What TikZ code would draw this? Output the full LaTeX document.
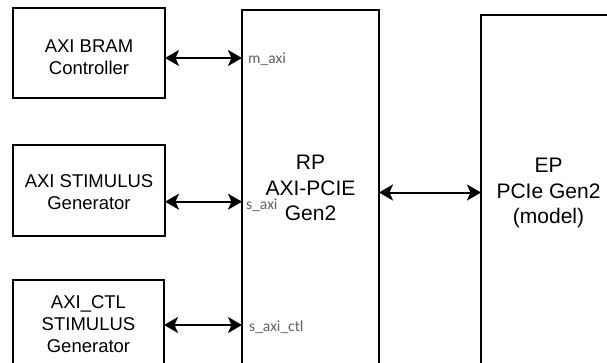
\documentclass[tikz,border=0pt]{standalone}
\usepackage{fontspec}
\setmainfont{Liberation Sans}
\newfontfamily\lblfont{Carlito}
\usetikzlibrary{arrows.meta,calc}
\begin{document}
\begin{tikzpicture}[x=1pt,y=-1pt,
  box/.style={draw=black, line width=2pt, fill=white, inner sep=0pt, outer sep=0pt},
  txt/.style={align=center, font=\fontsize{18.5}{22}\selectfont, inner sep=0pt},
  bigtxt/.style={align=center, font=\fontsize{21}{25.5}\selectfont, inner sep=0pt},
  port/.style={font=\lblfont\fontsize{15.5}{15.5}\selectfont, text=black!62, anchor=west, inner sep=0pt},
  tip/.tip={Stealth[length=14pt,width=16pt,inset=3.5pt]},
  link/.style={line width=2pt, tip-tip}]
\useasboundingbox (0,0) rectangle (607,362);
\clip (0,0) rectangle (607,362);
% boxes
\node[box, minimum width=152pt, minimum height=90pt] (b1) at (89,53) {};
\node[box, minimum width=152pt, minimum height=91pt] (b2) at (89,190.5) {};
\node[box, minimum width=151pt, minimum height=90pt] (b3) at (88.5,325) {};
\node[box, minimum width=137pt, minimum height=365pt] (rp) at (310.5,192.5) {};
\node[box, minimum width=136pt, minimum height=360pt] (ep) at (549,195) {};
% texts
\node[txt] (t1) at (89,57.5) {AXI BRAM\\Controller};
\node[txt] (t2) at (89,191.7) {AXI STIMULUS\\Generator};
\node[txt] (t3) at (88.5,324) {AXI\_CTL\\STIMULUS\\Generator};
\node[bigtxt] (trp) at (310.5,188) {RP\\AXI-PCIE\\Gen2};
\node[bigtxt] (tep) at (548.5,193) {EP\\PCIe Gen2\\(model)};
% connection points
\coordinate (p1) at ($(b1.east)+(0,5)$);
\coordinate (p2) at ($(b2.east)+(0,11.2)$);
\coordinate (p3) at (b3.east);
\draw[link] (p1) -- (p1 -| rp.west);
\draw[link] (p2) -- (p2 -| rp.west);
\draw[link] (p3) -- (p3 -| rp.west);
\draw[link] (rp.east) -- (rp.east -| ep.west);
% port labels
\node[port] (l1) at ($(p1 -| rp.west)+(6,1)$) {m\_axi};
\node[port] (l2) at ($(p2 -| rp.west)+(4,4)$) {s\_axi};
\node[port] (l3) at ($(p3 -| rp.west)+(7,2)$) {s\_axi\_ctl};
\end{tikzpicture}
\end{document}
